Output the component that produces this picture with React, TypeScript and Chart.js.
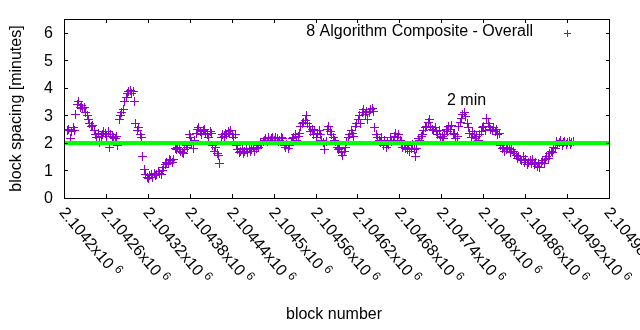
import React, { useEffect, useRef } from "react";
import { Chart, registerables } from "chart.js";

Chart.register(...registerables);

const firstBlock = 2104205;
const blockStep = 2;
const spacingMinutes = [
  2.45, 2.5, 2.15, 2.4, 2.55, 2.45, 3.05, 3.4, 3.5, 3.3,
  3.35, 3.25, 3.3, 3.1, 3.0, 2.85, 2.7, 2.6, 2.65, 2.45,
  2.3, 2.2, 2.35, 2.0, 2.25, 2.3, 2.4, 2.35, 2.25, 2.4,
  1.85, 2.3, 2.25, 2.2, 2.15, 2.25, 1.9, 2.85, 3.0, 3.1,
  3.2, 3.5, 3.65, 3.8, 3.85, 3.9, 3.8, 3.85, 3.5, 2.7,
  2.45, 2.55, 2.3, 2.2, 1.5, 1.05, 0.85, 0.75, 0.7, 0.8,
  0.85, 0.75, 0.9, 0.8, 0.85, 0.95, 0.9, 0.85, 1.0, 1.1,
  1.2, 1.3, 1.25, 1.4, 1.35, 1.3, 1.4, 1.8, 1.75, 1.85,
  1.75, 1.7, 1.65, 1.6, 1.75, 1.9, 1.85, 2.3, 2.2, 2.0,
  1.8, 2.1, 2.35, 2.5, 2.55, 2.4, 2.3, 2.45, 2.5, 2.35,
  2.3, 2.2, 2.4, 2.35, 1.9, 1.7, 1.85, 1.6, 1.55, 1.27,
  2.2, 2.3, 2.25, 2.35, 2.3, 2.4, 2.35, 2.45, 2.3, 2.2,
  2.3, 1.9, 1.75, 1.65, 1.7, 1.8, 1.6, 1.7, 1.75, 1.65,
  1.8, 1.7, 1.75, 1.85, 1.7, 1.8, 1.9, 1.85, 2.0, 1.95,
  2.05, 2.1, 2.15, 2.05, 2.2, 2.1, 2.15, 2.2, 2.1, 2.2,
  2.15, 2.05, 2.1, 2.2, 2.15, 1.9, 1.85, 1.95, 1.8, 1.9,
  2.05, 2.15, 2.2, 2.3, 2.1, 2.25, 2.35, 2.6, 2.7, 2.75,
  2.8, 3.0, 2.7, 2.6, 2.4, 2.5, 2.3, 2.45, 2.2, 2.35,
  2.45, 2.3, 2.1, 2.0, 1.75, 2.05, 2.5, 2.6, 2.4, 2.3,
  2.2, 2.1, 2.05, 1.85, 1.75, 1.8, 1.65, 1.55, 1.7, 1.85,
  2.05, 2.2, 2.3, 2.45, 2.35, 2.25, 2.6, 2.7, 2.85, 3.0,
  2.7, 3.1, 3.2, 3.05, 3.15, 2.85, 3.1, 3.2, 3.25, 3.15,
  2.55, 2.3, 2.2, 2.1, 2.0, 2.2, 1.9, 2.1, 1.85, 2.0,
  1.95, 2.2, 2.05, 2.1, 2.25, 2.35, 2.2, 2.3, 2.1, 2.0,
  1.85, 1.95, 1.8, 1.75, 1.9, 1.7, 1.8, 1.95, 1.75, 1.5,
  1.8, 2.15, 2.1, 2.25, 2.3, 2.45, 2.55, 2.6, 2.75, 2.85,
  2.6, 2.5, 2.45, 2.55, 2.4, 2.3, 2.45, 2.2, 2.25, 2.15,
  2.3, 2.5, 2.4, 2.6, 2.5, 2.65, 2.35, 2.3, 2.15, 2.25,
  2.6, 2.75, 2.9, 3.05, 3.1, 2.95, 2.7, 2.55, 2.35, 2.2,
  2.4, 2.3, 2.15, 2.25, 2.1, 2.3, 2.4, 2.55, 2.6, 2.45,
  2.9, 2.7, 2.6, 2.5, 2.45, 2.55, 2.4, 2.5, 2.3, 2.35,
  1.9, 1.8, 1.85, 1.7, 1.75, 1.85, 1.8, 1.65, 1.75, 1.7,
  1.6, 1.55, 1.45, 1.5, 1.4, 1.35, 1.5, 1.3, 1.4, 1.2,
  1.3, 1.35, 1.25, 1.4, 1.2, 1.3, 1.15, 1.25, 1.1, 1.3,
  1.35, 1.25, 1.4, 1.5, 1.45, 1.6, 1.7, 1.65, 1.85, 1.8,
  2.05, 1.95, 2.0, 2.1, 1.9, 2.0, 2.05, 1.95, 2.0, 2.05,
  1.95, 2.0, 2.05,
];

const xMin = 2104200;
const xMax = 2104980;
const xTickValues = [2104200, 2104260, 2104320, 2104380, 2104440, 2104500, 2104560, 2104620, 2104680, 2104740, 2104800, 2104860, 2104920, 2104980];
const xTickMantissas = ["2.1042", "2.10426", "2.10432", "2.10438", "2.10444", "2.1045", "2.10456", "2.10462", "2.10468", "2.10474", "2.1048", "2.10486", "2.10492", "2.10498"];
const yTickValues = [0, 1, 2, 3, 4, 5, 6];
const yMin = 0;
const yMax = 6.5;
const targetMinutes = 2;
const seriesLabel = "8 Algorithm Composite - Overall";
const targetLabel = "2 min";
const xTitle = "block number";
const yTitle = "block spacing [minutes]";

const PURPLE = "#9400d3";
const GREEN = "#00ff00";
const FONT = '"Liberation Sans", Arial, sans-serif';

function makeCross(size: number) {
  const c = document.createElement("canvas");
  c.width = size;
  c.height = size;
  const g = c.getContext("2d")!;
  const mid = Math.floor(size / 2);
  g.fillStyle = PURPLE;
  g.fillRect(0, mid, size, 1);
  g.fillRect(mid, 0, 1, size);
  return c;
}

const crispPlugin = {
  id: "crisp",
  beforeDatasetsDraw(chart: any) {
    chart.ctx.imageSmoothingEnabled = false;
  },
  afterDatasetsDraw(chart: any) {
    chart.ctx.imageSmoothingEnabled = true;
  },
};

const framePlugin = {
  id: "gnuframe",
  afterDraw(chart: any) {
    const { ctx, chartArea: a, scales } = chart;
    const xs = scales.x;
    const ys = scales.y;
    ctx.save();
    ctx.strokeStyle = "#000";
    ctx.fillStyle = "#000";
    ctx.lineWidth = 1;
    ctx.strokeRect(a.left + 0.5, a.top + 0.5, a.right - a.left, a.bottom - a.top);
    const tl = 4;
    ctx.beginPath();
    yTickValues.forEach((v) => {
      const py = Math.round(ys.getPixelForValue(v)) + 0.5;
      ctx.moveTo(a.left, py);
      ctx.lineTo(a.left + tl, py);
      ctx.moveTo(a.right + 1, py);
      ctx.lineTo(a.right + 1 - tl, py);
    });
    xTickValues.forEach((v) => {
      const px = Math.round(xs.getPixelForValue(v)) + 0.5;
      ctx.moveTo(px, a.bottom);
      ctx.lineTo(px, a.bottom - tl);
      ctx.moveTo(px, a.top);
      ctx.lineTo(px, a.top + tl);
    });
    ctx.stroke();

    ctx.font = `16px ${FONT}`;
    ctx.textAlign = "right";
    ctx.textBaseline = "middle";
    yTickValues.forEach((v) => {
      ctx.fillText(String(v), 53, ys.getPixelForValue(v) + 1);
    });

    xTickValues.forEach((v, i) => {
      const px = xs.getPixelForValue(v);
      ctx.save();
      ctx.translate(px - 2, 210);
      ctx.rotate((50 * Math.PI) / 180);
      ctx.textAlign = "left";
      ctx.textBaseline = "middle";
      ctx.font = `16px ${FONT}`;
      const main = xTickMantissas[i] + "x10";
      ctx.fillText(main, 0, 0);
      const w = ctx.measureText(main).width;
      ctx.font = `12px ${FONT}`;
      ctx.fillText("6", w + 4, -5);
      ctx.restore();
    });

    ctx.font = `16px ${FONT}`;
    ctx.textAlign = "center";
    ctx.textBaseline = "middle";
    ctx.fillText(xTitle, 334, 315);
    ctx.save();
    ctx.translate(17, (a.top + a.bottom) / 2);
    ctx.rotate(-Math.PI / 2);
    ctx.fillText(yTitle, 0, 0);
    ctx.restore();

    ctx.textAlign = "right";
    ctx.fillText(seriesLabel, 533, 32);
    ctx.fillStyle = PURPLE;
    ctx.fillRect(564, 33, 7, 1);
    ctx.fillRect(567, 30, 1, 7);

    ctx.fillStyle = "#000";
    ctx.textAlign = "left";
    ctx.fillText(targetLabel, 447, 101);
    ctx.restore();
  },
};

export default function App() {
  const ref = useRef<HTMLCanvasElement | null>(null);
  useEffect(() => {
    if (!ref.current) return;
    const points = spacingMinutes.map((y, i) => ({ x: firstBlock + i * blockStep, y }));
    const cross = makeCross(9);
    const chart = new Chart(ref.current, {
      type: "scatter",
      data: {
        datasets: [
          {
            label: targetLabel,
            data: [
              { x: xMin, y: targetMinutes },
              { x: xMax, y: targetMinutes },
            ],
            showLine: true,
            borderColor: GREEN,
            borderWidth: 4,
            pointRadius: 0,
            order: 0,
          },
          {
            label: seriesLabel,
            data: points,
            pointStyle: cross as any,
            pointRadius: 4,
            borderColor: PURPLE,
            backgroundColor: PURPLE,
            showLine: false,
            order: 1,
          },
        ],
      },
      options: {
        responsive: false,
        animation: false,
        devicePixelRatio: 1,
        layout: { padding: { left: 64, right: 31, top: 19, bottom: 132 } },
        scales: {
          x: { type: "linear", min: xMin, max: xMax, display: false },
          y: { min: yMin, max: yMax, display: false },
        },
        plugins: { legend: { display: false }, tooltip: { enabled: false } },
      },
      plugins: [crispPlugin, framePlugin],
    });
    return () => chart.destroy();
  }, []);
  return (
    <div style={{ position: "absolute", left: 0, top: 0, width: 640, height: 330, background: "#fff" }}>
      <canvas ref={ref} width={640} height={330} style={{ display: "block" }} />
    </div>
  );
}
